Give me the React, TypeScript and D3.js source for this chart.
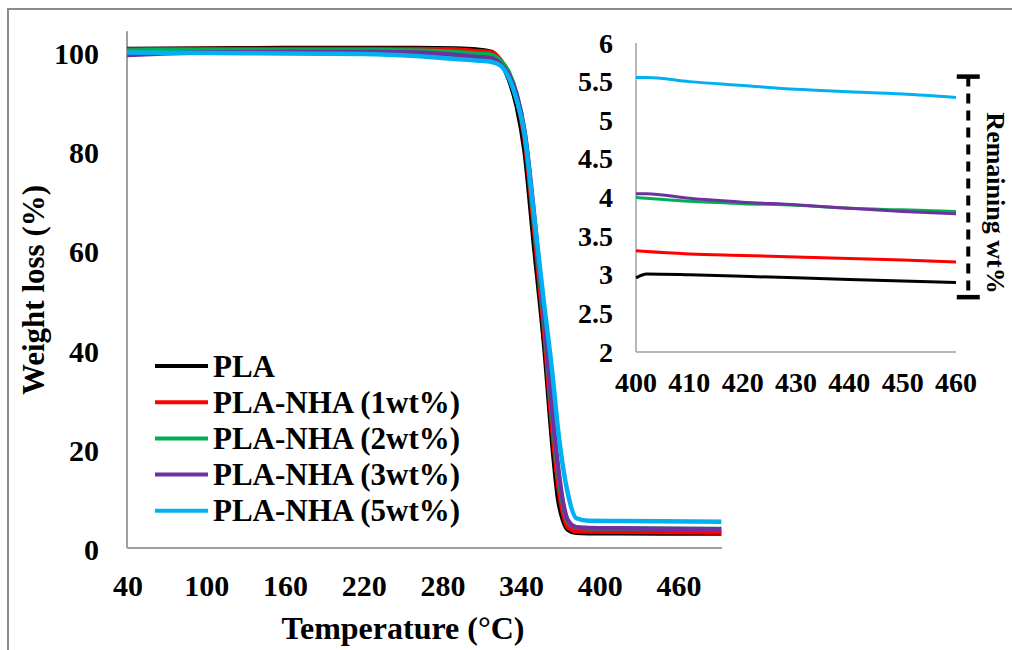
import React from 'react';
import * as d3 from 'd3';

// main TGA curves
const temps = [40, 100, 160, 220, 260, 290, 306, 318, 325, 331, 337, 343, 350, 358, 364.5, 368.5, 372.5, 376, 382.5, 392, 415, 447, 493];
const pla = [100.6, 100.7, 100.8, 100.8, 100.8, 100.7, 100.5, 100.0, 97.9, 94.5, 89.1, 80.0, 61.5, 40.7, 20.0, 10.0, 5.5, 3.7, 3.05, 2.98, 2.95, 2.92, 2.9];
const nha1 = [100.5, 100.6, 100.6, 100.6, 100.6, 100.5, 100.2, 99.9, 98.3, 95.7, 90.8, 82.5, 65.0, 43.5, 23.0, 13.0, 6.8, 4.2, 3.4, 3.32, 3.27, 3.21, 3.15];
const nha2 = [100.3, 100.4, 100.4, 100.4, 100.3, 100.0, 99.7, 99.4, 98.1, 95.9, 91.5, 83.8, 67.0, 45.5, 25.5, 15.5, 8.5, 5.3, 4.15, 4.0, 3.93, 3.87, 3.82];
const nha3 = [99.4, 99.9, 100.0, 100.0, 99.9, 99.4, 99.0, 98.7, 97.5, 95.4, 91.3, 84.0, 68.0, 46.5, 26.5, 16.5, 9.0, 5.6, 4.2, 4.05, 3.96, 3.87, 3.79];
const nha5 = [99.9, 99.8, 99.7, 99.6, 99.2, 98.6, 98.3, 98.0, 97.2, 94.8, 90.3, 83.5, 67.5, 49.0, 34.5, 24.0, 16.0, 11.0, 6.0, 5.5, 5.45, 5.38, 5.3];

// inset: remaining weight 400-460
const insetTemps = [400, 402, 410, 420, 430, 440, 450, 460];
const insetPla = [2.96, 3.01, 3.0, 2.98, 2.96, 2.94, 2.92, 2.9];
const insetNha1 = [3.31, 3.3, 3.27, 3.25, 3.23, 3.21, 3.19, 3.165];
const insetNha2 = [4.0, 3.99, 3.95, 3.92, 3.9, 3.86, 3.84, 3.82];
const insetNha3 = [4.05, 4.05, 3.99, 3.94, 3.905, 3.86, 3.82, 3.79];
const insetNha5 = [5.555, 5.555, 5.5, 5.45, 5.4, 5.37, 5.34, 5.295];
const remainingRange = [2.71, 5.565];
const remainingAt = 462.3;

const seriesNames = ['PLA', 'PLA-NHA (1wt%)', 'PLA-NHA (2wt%)', 'PLA-NHA (3wt%)', 'PLA-NHA (5wt%)'];
const seriesColors = ['#000000', '#ff0000', '#00b050', '#7030a0', '#00b0f0'];
const mainSeries = [pla, nha1, nha2, nha3, nha5];
const insetSeries = [insetPla, insetNha1, insetNha2, insetNha3, insetNha5];

const xTicks = [40, 100, 160, 220, 280, 340, 400, 460];
const yTicks = [0, 20, 40, 60, 80, 100];
const insetXTicks = [400, 410, 420, 430, 440, 450, 460];
const insetYTicks = [2, 2.5, 3, 3.5, 4, 4.5, 5, 5.5, 6];

const FONT = '"Liberation Serif", "Times New Roman", serif';
const AXIS_GRAY = '#a0a0a0';

export default function App() {
  const x = d3.scaleLinear().domain([40, 493.5]).range([127, 722]);
  const y = d3.scaleLinear().domain([0, 100]).range([548, 52]);
  const ix = d3.scaleLinear().domain([400, 460]).range([636, 956]);
  const iy = d3.scaleLinear().domain([2, 6]).range([352, 43]);

  const mainLine = (vals: number[]) =>
    d3.line<number>()
      .x((_, i) => x(temps[i]))
      .y(d => y(d))
      .curve(d3.curveMonotoneX)(vals) || '';

  const insetLine = (vals: number[]) =>
    d3.line<number>()
      .x((_, i) => ix(insetTemps[i]))
      .y(d => iy(d))
      .curve(d3.curveMonotoneX)(vals) || '';

  const legendX = 155;
  const legendY0 = 366;
  const legendStep = 36.2;

  const barX = ix(remainingAt);
  const barTop = iy(remainingRange[1]);
  const barBottom = iy(remainingRange[0]);

  return (
    <div style={{ position: 'absolute', left: 0, top: 0 }}>
      <svg width={1012} height={650} style={{ display: 'block', background: '#fff' }}>
        <rect x={8} y={9} width={1020} height={660} fill="#fff" stroke="#8c8c8c" strokeWidth={2} />

        {/* main axes */}
        <line x1={x(40)} x2={x(40)} y1={y(104.2)} y2={y(0)} stroke={AXIS_GRAY} strokeWidth={2} />
        <line x1={x(40)} x2={x(493.5)} y1={y(0)} y2={y(0)} stroke={AXIS_GRAY} strokeWidth={2} />

        {yTicks.map(t => (
          <text key={'y' + t} x={99} y={y(t) + 12} textAnchor="end" fontFamily={FONT} fontWeight="bold" fontSize={30}>{t}</text>
        ))}
        {xTicks.map(t => (
          <text key={'x' + t} x={x(t) + 1} y={y(0) + 48} textAnchor="middle" fontFamily={FONT} fontWeight="bold" fontSize={30}>{t}</text>
        ))}

        <text x={403} y={639} textAnchor="middle" fontFamily={FONT} fontWeight="bold" fontSize={32}>Temperature (°C)</text>
        <text transform="translate(44,290) rotate(-90)" textAnchor="middle" fontFamily={FONT} fontWeight="bold" fontSize={31}>Weight loss (%)</text>

        {mainSeries.map((s, i) => (
          <path key={'m' + i} d={mainLine(s)} fill="none" stroke={seriesColors[i]} strokeWidth={4.5} strokeLinejoin="round" />
        ))}

        {/* legend */}
        {seriesNames.map((n, i) => (
          <g key={'l' + i}>
            <line x1={legendX} x2={legendX + 53} y1={legendY0 + i * legendStep} y2={legendY0 + i * legendStep} stroke={seriesColors[i]} strokeWidth={4} />
            <text x={legendX + 58} y={legendY0 + i * legendStep + 10.5} fontFamily={FONT} fontWeight="bold" fontSize={31}>{n}</text>
          </g>
        ))}

        {/* inset */}
        <line x1={ix(400)} x2={ix(400)} y1={iy(6)} y2={iy(2)} stroke={AXIS_GRAY} strokeWidth={1.5} />
        <line x1={ix(400)} x2={ix(460)} y1={iy(2)} y2={iy(2)} stroke={AXIS_GRAY} strokeWidth={1.5} />
        {insetYTicks.map(t => (
          <text key={'iy' + t} x={613} y={iy(t) + 9.5} textAnchor="end" fontFamily={FONT} fontWeight="bold" fontSize={28}>{t}</text>
        ))}
        {insetXTicks.map(t => (
          <text key={'ix' + t} x={ix(t)} y={iy(2) + 40} textAnchor="middle" fontFamily={FONT} fontWeight="bold" fontSize={28}>{t}</text>
        ))}
        {insetSeries.map((s, i) => (
          <path key={'i' + i} d={insetLine(s)} fill="none" stroke={seriesColors[i]} strokeWidth={3} strokeLinejoin="round" />
        ))}

        {/* remaining wt% bracket */}
        <line x1={barX} x2={barX} y1={barTop} y2={barBottom} stroke="#000" strokeWidth={4} strokeDasharray="10,7" />
        <line x1={barX - 11.5} x2={barX + 11.5} y1={barTop} y2={barTop} stroke="#000" strokeWidth={4.5} />
        <line x1={barX - 11.5} x2={barX + 11.5} y1={barBottom} y2={barBottom} stroke="#000" strokeWidth={4.5} />
        <text transform="translate(987,203) rotate(90)" textAnchor="middle" fontFamily={FONT} fontWeight="bold" fontSize={26}>Remaining wt%</text>
      </svg>
    </div>
  );
}
